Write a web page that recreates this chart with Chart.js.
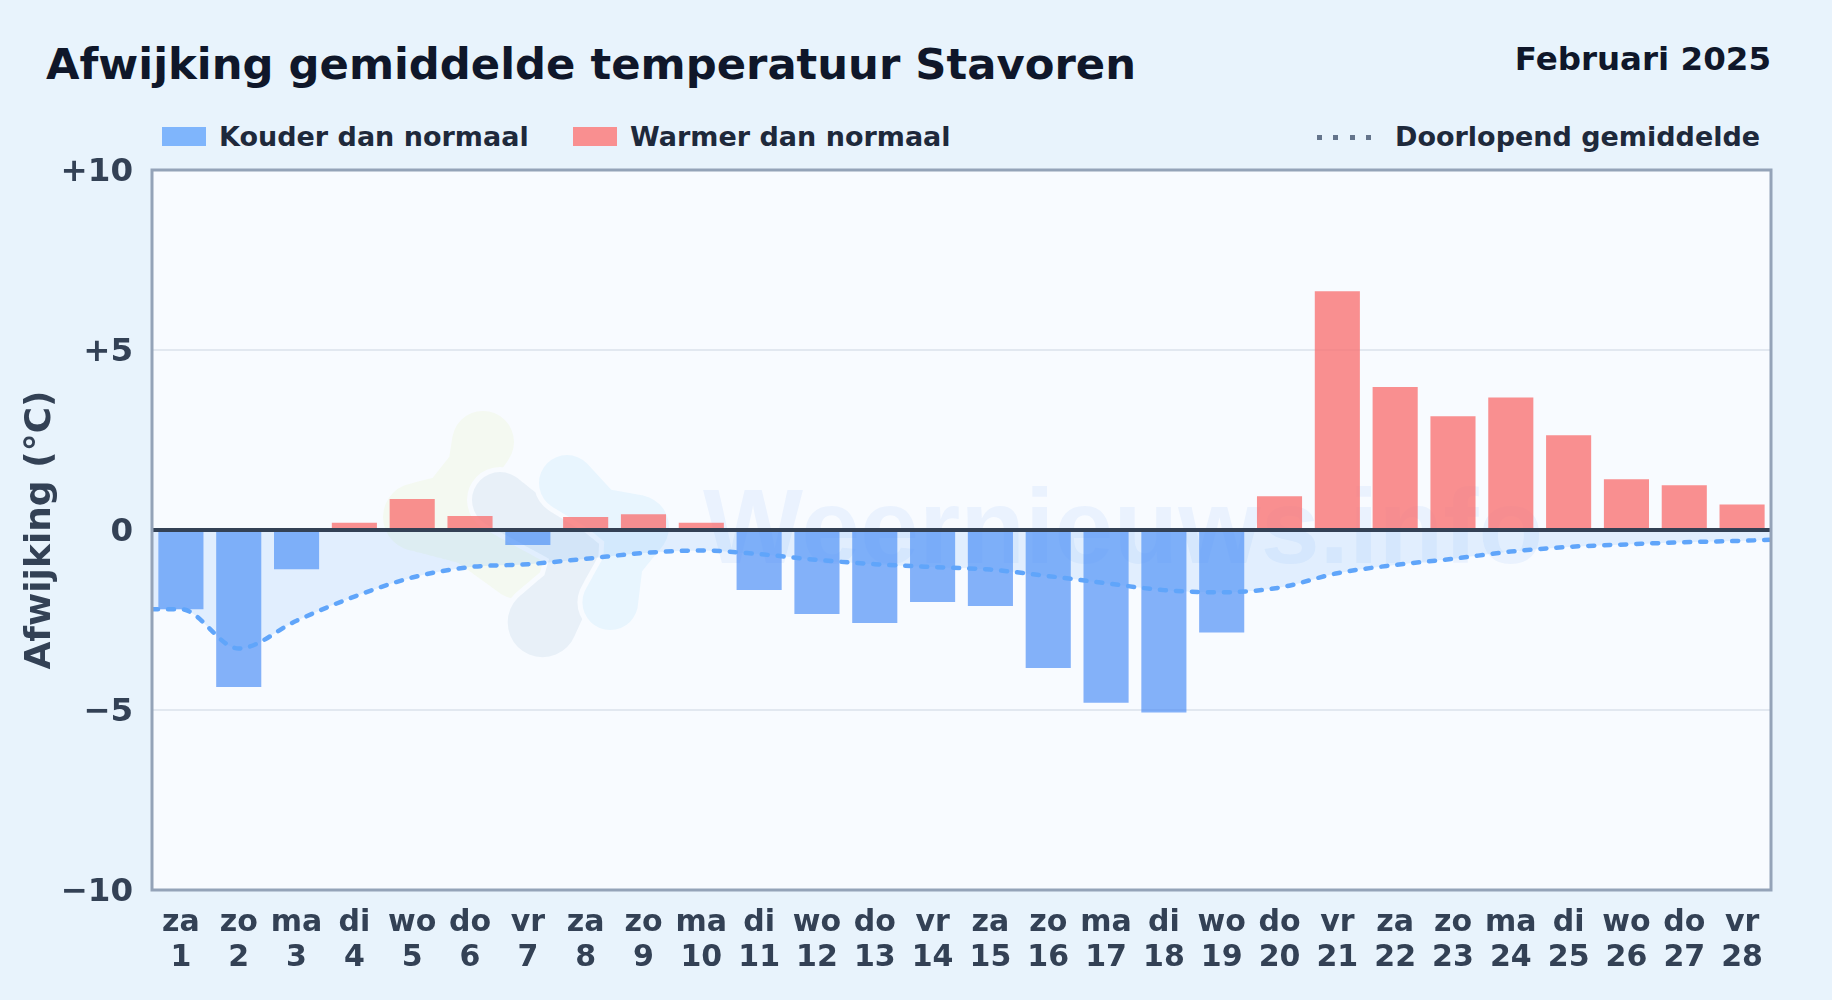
<!DOCTYPE html>
<html lang="nl">
<head>
<meta charset="utf-8">
<title>Afwijking gemiddelde temperatuur Stavoren</title>
<script src="https://cdn.jsdelivr.net/npm/chart.js@4"></script>
<style>
    html, body { margin: 0; padding: 0; }
    body {
        width: 1832px; height: 1000px; overflow: hidden; position: relative;
        background: #e8f3fc;
        font-family: "DejaVu Sans", sans-serif; font-weight: bold;
    }
    canvas { position: absolute; left: 0; top: 0; }
    .t { position: absolute; white-space: nowrap; line-height: 1; }
    #titel { left: 46px; top: 43px; font-size: 43.3px; color: #0f172a; }
    #maand { right: 61px; top: 43px; font-size: 32.5px; color: #0f172a; }
    .leg { top: 123px; font-size: 27px; color: #1e293b; }
    .swatch { position: absolute; top: 127px; width: 44px; height: 19px; }
    #dots {
        position: absolute; left: 1317px; top: 135px; width: 60px; height: 5px;
        background: repeating-linear-gradient(90deg, #64748b 0 5px, transparent 5px 16.4px);
    }
</style>
</head>
<body>
<div class="t" id="titel">Afwijking gemiddelde temperatuur Stavoren</div>
<div class="t" id="maand">Februari 2025</div>
<div class="swatch" style="left:162px;background:#7fb5fc"></div>
<div class="t leg" style="left:219px">Kouder dan normaal</div>
<div class="swatch" style="left:573px;background:#f98f90"></div>
<div class="t leg" style="left:630px">Warmer dan normaal</div>
<div id="dots"></div>
<div class="t leg" style="left:1395px">Doorlopend gemiddelde</div>
<canvas id="grafiek" width="1832" height="1000"></canvas>

<script>
// dagen van de maand
var dagen = [1,2,3,4,5,6,7,8,9,10,11,12,13,14,15,16,17,18,19,20,21,22,23,24,25,26,27,28];
var weekdagen = ['za','zo','ma','di','wo','do','vr','za','zo','ma','di','wo','do','vr','za','zo','ma','di','wo','do','vr','za','zo','ma','di','wo','do','vr'];

// afwijking per dag
var afwijking = [-2.2,-4.36,-1.09,0.2,0.86,0.39,-0.42,0.36,0.44,0.2,-1.67,-2.33,-2.58,-2.0,-2.11,-3.83,-4.8,-5.07,-2.85,0.94,6.63,3.97,3.16,3.68,2.63,1.41,1.24,0.71];

// doorlopend gemiddelde, loopt door tot aan de randen van het vlak
var gemiddeldeX = [0.5,1,2,3,4,5,6,7,8,9,10,11,12,13,14,15,16,17,18,19,20,21,22,23,24,25,26,27,28,28.5];
var gemiddeldeY = [-2.2,-2.2,-3.29,-2.52,-1.85,-1.32,-1.03,-0.95,-0.8,-0.64,-0.57,-0.67,-0.83,-0.95,-1.03,-1.1,-1.28,-1.48,-1.67,-1.73,-1.6,-1.2,-0.97,-0.8,-0.6,-0.47,-0.4,-0.34,-0.3,-0.27];

var yTicks = [-10,-5,0,5,10];

// logo als ketting van cirkels: eerst een rand in de kleur van het vlak
function tekenBlob(ctx, kleur, punten) {
    [['#f8fbff', 5], [kleur, 0]].forEach(function (laag) {
        ctx.fillStyle = laag[0];
        ctx.beginPath();
        for (var i = 0; i < punten.length - 1; i++) {
            var a = punten[i], b = punten[i + 1];
            for (var t = 0; t <= 1; t += 0.02) {
                var x = a[0] + (b[0] - a[0]) * t, y = a[1] + (b[1] - a[1]) * t;
                var r = a[2] + (b[2] - a[2]) * t + laag[1];
                ctx.moveTo(x + r, y);
                ctx.arc(x, y, r, 0, Math.PI * 2);
            }
        }
        ctx.fill();
    });
}

// vlak, watermerk en logo achter de staven
var achtergrond = {
    id: 'achtergrond',
    beforeDatasetsDraw: function (chart) {
        var ctx = chart.ctx;
        ctx.save();
        tekenBlob(ctx, '#f4f9f1', [[483,442,31],[473,467,25],[447,500,25],[417,517,34],[470,537,28],[520,567,33]]);
        tekenBlob(ctx, '#e8f0f8', [[500,500,28],[530,520,25],[587,543,32],[567,590,26],[542,623,35]]);
        tekenBlob(ctx, '#e8f5fe', [[567,483,28],[600,510,22],[637,527,32],[623,563,20],[610,603,28]]);
        ctx.font = 'bold 106px "Liberation Sans"';
        ctx.fillStyle = 'rgba(59,130,246,0.07)';
        ctx.textAlign = 'left';
        ctx.textBaseline = 'alphabetic';
        ctx.fillText('Weernieuws.info', 703, 563);
        ctx.restore();
    },
    beforeDraw: function (chart) {
        var a = chart.chartArea;
        chart.ctx.fillStyle = '#f8fbff';
        chart.ctx.fillRect(a.left, a.top, a.width, a.height);
    },
    afterDatasetsDraw: function (chart) {
        var ctx = chart.ctx, a = chart.chartArea;
        var nul = chart.scales.y.getPixelForValue(0);
        ctx.save();
        ctx.strokeStyle = '#334155';
        ctx.lineWidth = 4;
        ctx.beginPath();
        ctx.moveTo(a.left, nul);
        ctx.lineTo(a.right, nul);
        ctx.stroke();
        ctx.strokeStyle = '#94a3b8';
        ctx.lineWidth = 3;
        ctx.strokeRect(a.left, a.top, a.width, a.height);
        ctx.restore();
    }
};

var ctx = document.getElementById('grafiek').getContext('2d');
new Chart(ctx, {
    data: {
        datasets: [{
            type: 'line',
            label: 'Doorlopend gemiddelde',
            data: gemiddeldeX.map(function (x, i) { return { x: x, y: gemiddeldeY[i] }; }),
            borderColor: '#60a5fa',
            borderWidth: 4.5,
            borderDash: [6, 10],
            borderCapStyle: 'round',
            backgroundColor: 'rgba(96,165,250,0.15)',
            fill: 'origin',
            pointRadius: 0,
            cubicInterpolationMode: 'monotone',
            order: 1
        }, {
            type: 'bar',
            label: 'Afwijking',
            data: dagen.map(function (d, i) { return { x: d, y: afwijking[i] }; }),
            backgroundColor: afwijking.map(function (v) { return v < 0 ? 'rgba(59,130,246,0.62)' : 'rgba(248,113,113,0.78)'; }),
            categoryPercentage: 1,
            barPercentage: 0.78,
            order: 2
        }]
    },
    options: {
        responsive: false,
        animation: false,
        events: [],
        layout: { padding: { top: 170, right: 61, left: 0, bottom: 0 } },
        plugins: { legend: { display: false }, tooltip: { enabled: false } },
        scales: {
            x: {
                type: 'linear',
                offset: false,
                min: 0.5,
                max: 28.5,
                afterBuildTicks: function (s) { s.ticks = dagen.map(function (d) { return { value: d }; }); },
                afterFit: function (s) { s.height = 110; },
                grid: { display: false },
                border: { display: false },
                ticks: {
                    autoSkip: false,
                    maxRotation: 0,
                    padding: 8,
                    color: '#334155',
                    font: { family: '"DejaVu Sans"', size: 30, weight: 'bold', lineHeight: 1.17 },
                    callback: function (v) { return [weekdagen[v - 1], String(v)]; }
                }
            },
            y: {
                min: -10,
                max: 10,
                afterBuildTicks: function (s) { s.ticks = yTicks.map(function (v) { return { value: v }; }); },
                afterFit: function (s) { s.width = 152; },
                grid: {
                    color: function (c) { return c.tick && Math.abs(c.tick.value) == 5 ? '#e2e8f0' : 'transparent'; },
                    lineWidth: 2,
                    drawTicks: false
                },
                border: { display: false },
                ticks: {
                    padding: 19,
                    labelOffset: 2.5,
                    color: '#334155',
                    font: { family: '"DejaVu Sans"', size: 32.5, weight: 'bold' },
                    callback: function (v) { return v > 0 ? '+' + v : v < 0 ? '\u2212' + Math.abs(v) : '0'; }
                },
                title: {
                    display: true,
                    text: 'Afwijking (°C)',
                    color: '#334155',
                    padding: { top: 19, bottom: 0 },
                    font: { family: '"DejaVu Sans"', size: 36, weight: 'bold' }
                }
            }
        }
    },
    plugins: [achtergrond]
});
</script>
</body>
</html>
